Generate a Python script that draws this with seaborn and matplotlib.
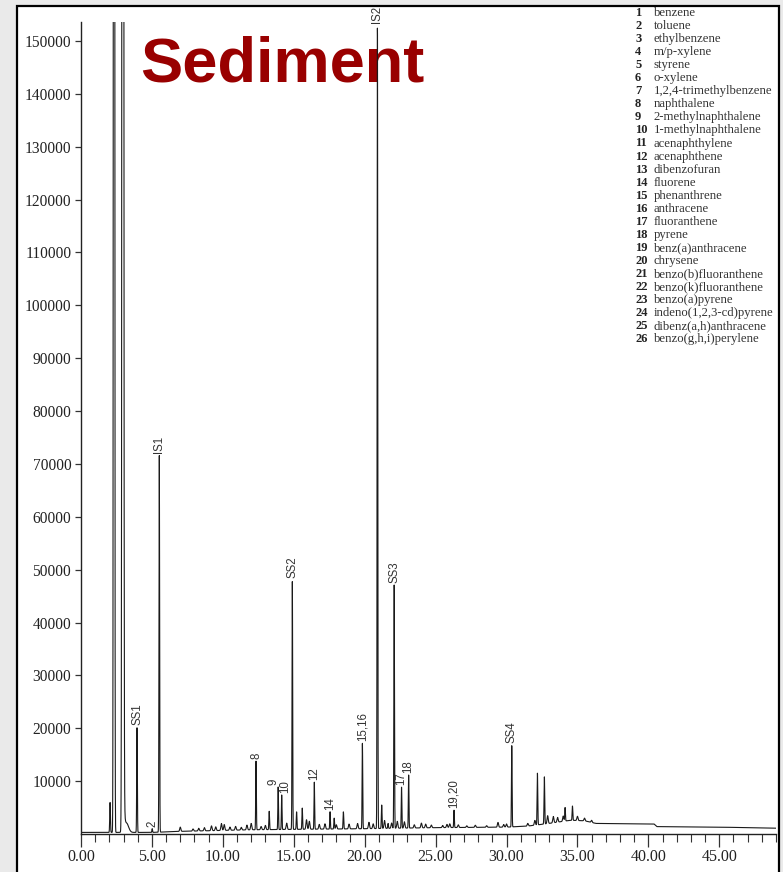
import numpy as np
import pandas as pd
import matplotlib
matplotlib.use("Agg")
import matplotlib.pyplot as plt
from matplotlib.patches import Rectangle
from matplotlib.ticker import MultipleLocator, FixedLocator, FormatStrFormatter
import seaborn as sns

# ---- labelled peaks: retention time (min) and apex response ----
labeled_names = ["SS1", "2", "IS1", "8", "9", "10", "SS2", "12", "14",
                 "15,16", "IS2", "SS3", "17", "18", "19,20", "SS4"]
labeled_rt = [3.95, 5.02, 5.52, 12.34, 13.90, 14.15, 14.90, 16.45, 17.56,
              19.84, 20.90, 22.08, 22.60, 23.10, 26.30, 30.37]
labeled_height = [20200, 1000, 71700, 13800, 8900, 7400, 48000, 9800, 4200,
                  17200, 153000, 47100, 8900, 11200, 4500, 16800]
# small horizontal nudges (points) for crowded labels
label_dx = [0, 0, 0, 0, -3.5, 2.2, 0, 0, 0, 0, 0, 0, 0, 0, 0, 0]

# ---- other resolved (unlabelled) peaks ----
other_rt = [2.05, 13.27, 15.20, 15.60, 17.85, 18.50, 21.20, 21.65,
            32.18, 32.67, 34.13, 34.65]
other_height = [6000, 4300, 4200, 4900, 3000, 4200, 5500, 2000,
                11500, 10800, 5000, 5300]

# ---- solvent front (off scale) with its tail ----
solvent_rt = [2.33, 2.95, 3.02, 3.20]
solvent_height = [900000, 900000, 4000, 1800]
solvent_width = [0.03, 0.04, 0.06, 0.15]

# ---- minor peaks (response above baseline) ----
minor_rt = [7.0, 7.9, 8.3, 8.7, 9.2, 9.5, 9.9, 10.1, 10.5, 10.9, 11.3, 11.7,
            12.0, 12.7, 13.0, 14.5, 15.9, 16.1, 16.8, 17.2, 18.0, 18.9, 19.5,
            20.3, 20.6, 21.4, 21.9, 22.3, 22.8, 23.5, 24.0, 24.3, 24.7, 25.5,
            25.8, 26.0, 26.6, 27.2, 27.8, 28.6, 29.4, 29.8, 30.0, 31.5, 32.0,
            32.9, 33.3, 33.6, 34.0, 35.0, 35.5, 36.0]
minor_height = [800, 400, 500, 600, 900, 700, 1300, 1100, 600, 700, 500, 900,
                1200, 600, 800, 1200, 1800, 1500, 900, 1000, 800, 900, 1000,
                1200, 900, 1500, 1000, 1300, 1200, 600, 900, 700, 500, 400,
                600, 700, 500, 300, 400, 300, 900, 500, 600, 500, 900,
                1500, 1200, 900, 1000, 800, 500, 400]

# ---- baseline drift ----
baseline_rt = [0, 5, 7, 12, 20, 25, 30, 31.5, 33, 34.5, 35.5, 36.3, 40.4,
               40.6, 45, 49]
baseline_level = [300, 300, 500, 800, 1000, 1200, 1300, 1500, 2000, 2600,
                  2500, 2000, 1900, 1400, 1300, 1100]

# ---- compound key ----
compound_no = list(range(1, 27))
compound_name = ["benzene", "toluene", "ethylbenzene", "m/p-xylene", "styrene",
                 "o-xylene", "1,2,4-trimethylbenzene", "naphthalene",
                 "2-methylnaphthalene", "1-methylnaphthalene", "acenaphthylene",
                 "acenaphthene", "dibenzofuran", "fluorene", "phenanthrene",
                 "anthracene", "fluoranthene", "pyrene", "benz(a)anthracene",
                 "chrysene", "benzo(b)fluoranthene", "benzo(k)fluoranthene",
                 "benzo(a)pyrene", "indeno(1,2,3-cd)pyrene",
                 "dibenz(a,h)anthracene", "benzo(g,h,i)perylene"]

x_ticks = [0, 5, 10, 15, 20, 25, 30, 35, 40, 45]
y_ticks = list(range(10000, 150001, 10000))

# ---- build the detector trace ----
t = np.linspace(0, 49, 9000)
base = np.interp(t, baseline_rt, baseline_level)
signal = base.copy()


def add_peak(rt, amp, sigma):
    global signal
    signal = signal + amp * np.exp(-0.5 * ((t - rt) / sigma) ** 2)


for rt, h in zip(labeled_rt, labeled_height):
    add_peak(rt, h - np.interp(rt, baseline_rt, baseline_level), 0.022)
for rt, h in zip(other_rt, other_height):
    add_peak(rt, h - np.interp(rt, baseline_rt, baseline_level), 0.024)
for rt, h, w in zip(solvent_rt, solvent_height, solvent_width):
    add_peak(rt, h, w)
for rt, h in zip(minor_rt, minor_height):
    add_peak(rt, h, 0.04)

trace = pd.DataFrame({"time": t, "response": signal})

# ---- figure ----
sns.set_theme(style="white")
plt.rcParams["font.family"] = ["Liberation Serif", "DejaVu Serif"]

W, H = 783, 872
fig = plt.figure(figsize=(W / 100, H / 100), dpi=100)
fig.patch.set_facecolor("#eaeaea")

# white panel with black border, drawn beneath the axes
panel = Rectangle((17 / W, -0.05), (779 - 17) / W, 1.05 - 6 / H,
                  transform=fig.transFigure, facecolor="white",
                  edgecolor="black", linewidth=1.6, zorder=-5)
fig.patches.append(panel)

ax = fig.add_axes([81 / W, (H - 834) / H, (776 - 81) / W, (834 - 22) / H])
ax.set_zorder(2)
ax.set_facecolor("none")

sns.lineplot(data=trace, x="time", y="response", color="#1a1a1a",
             linewidth=0.8, estimator=None, sort=False, ax=ax)

ax.set_xlim(0, 49)
ax.set_ylim(0, 153600)
ax.set_xlabel("")
ax.set_ylabel("")

for s in ["top", "right"]:
    ax.spines[s].set_visible(False)
for s in ["left", "bottom"]:
    ax.spines[s].set_color("#222222")
    ax.spines[s].set_linewidth(1.0)

ax.xaxis.set_major_locator(FixedLocator(x_ticks))
ax.xaxis.set_minor_locator(MultipleLocator(1))
ax.xaxis.set_major_formatter(FormatStrFormatter("%.2f"))
ax.yaxis.set_major_locator(FixedLocator(y_ticks))
ax.yaxis.set_major_formatter(FormatStrFormatter("%d"))

ax.tick_params(axis="x", which="major", bottom=True, length=9, width=0.9,
               color="#333333", labelsize=11.5, labelcolor="#222222", pad=2)
ax.tick_params(axis="x", which="minor", bottom=True, length=6, width=0.8,
               color="#333333")
ax.tick_params(axis="y", which="major", left=True, length=4, width=0.9,
               color="#333333", labelsize=11.2, labelcolor="#222222", pad=3)

# peak labels
for name, rt, h, dx in zip(labeled_names, labeled_rt, labeled_height, label_dx):
    ax.annotate(name, xy=(rt, h), xytext=(dx, 1.5), textcoords="offset points",
                rotation=90, ha="center", va="bottom", fontsize=8.3,
                family=["Liberation Sans", "DejaVu Sans"], color="#333333",
                annotation_clip=False)

# title (kept under the axes so the trace runs across it)
fig.text(140 / W, (H - 82) / H, "Sediment", color="#990000",
         fontsize=45.5, fontweight="bold", zorder=1,
         family=["Liberation Sans", "DejaVu Sans"], ha="left", va="baseline")

# compound key
for i, (n, c) in enumerate(zip(compound_no, compound_name)):
    y = (H - (13 + 13.05 * i)) / H
    fig.text(635 / W, y, str(n), fontsize=9, fontweight="bold",
             color="#222222", ha="left", va="center")
    fig.text(654 / W, y, c, fontsize=9.2, color="#333333",
             ha="left", va="center")

fig.savefig("out.png", dpi=100, facecolor=fig.get_facecolor())
